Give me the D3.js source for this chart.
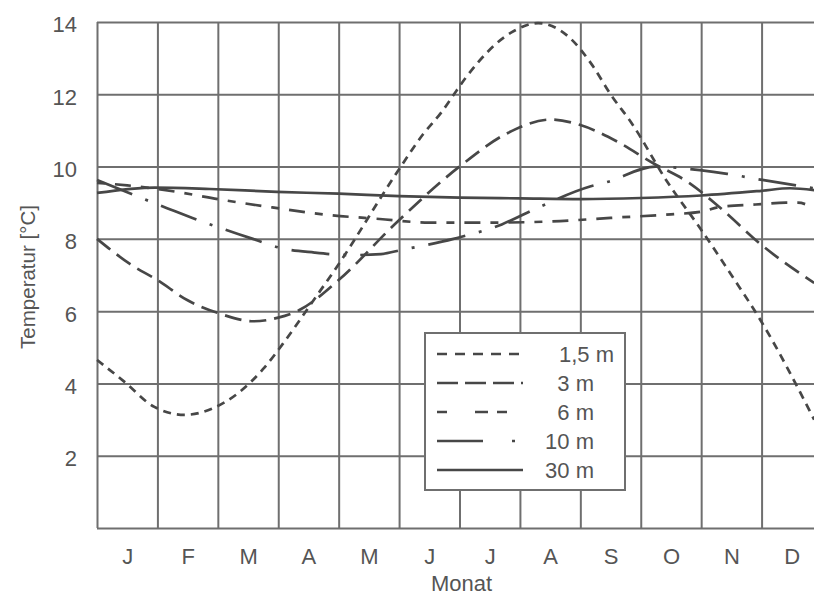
<!DOCTYPE html>
<html>
<head>
<meta charset="utf-8">
<script src="https://cdn.jsdelivr.net/npm/d3@7"></script>
<style>
  body { margin: 0; background: #fff; }
  svg { display: block; font-family: "Liberation Sans", Arial, sans-serif; }
  .grid line, .grid path { stroke: #6f6f6f; stroke-width: 2; }
  .tick text { fill: #555; font-size: 22px; }
  .curve { fill: none; stroke: #474747; stroke-width: 2.7; }
</style>
</head>
<body>
<svg id="chart" width="814" height="597"></svg>
<script>
// month labels (x axis) and temperature ticks (y axis)
const months = ['J', 'F', 'M', 'A', 'M', 'J', 'J', 'A', 'S', 'O', 'N', 'D'];
const tempTicks = [2, 4, 6, 8, 10, 12, 14];

// series values: [month position (0 = start of Jan), temperature °C]
const depth1_5 = [[0, 4.65], [0.45, 4.05], [0.95, 3.35], [1.45, 3.13], [1.9, 3.3], [2.35, 3.75],
  [2.75, 4.4], [3.1, 5.15], [3.5, 6.1], [4.0, 7.3], [4.95, 9.8],
  [5.4, 10.9], [5.7, 11.5], [5.95, 12.1], [6.1, 12.45], [6.9, 13.75], [7.3, 13.97],
  [7.8, 13.6], [8.2, 12.8], [8.5, 12.0], [8.85, 11.2], [9.43, 9.6], [9.98, 8.3],
  [10.5, 7.0], [11.0, 5.7], [11.87, 3.0]];
const depth3 = [[0, 8.0], [0.55, 7.3], [1.0, 6.86], [1.5, 6.3], [2.0, 5.95], [2.6, 5.72],
  [3.0, 5.82], [3.35, 6.03], [4.0, 6.86], [4.95, 8.44], [6.0, 10.0], [6.8, 10.93],
  [7.5, 11.3], [8.0, 11.15], [8.6, 10.7], [9.2, 10.1], [9.8, 9.55], [10.3, 8.88],
  [11.0, 7.83], [11.87, 6.78]];
const depth6 = [[0, 9.55], [0.5, 9.48], [1.32, 9.3], [2.0, 9.1], [2.9, 8.87], [3.78, 8.67],
  [4.68, 8.55], [5.5, 8.45], [6.5, 8.45], [7.5, 8.48], [8.5, 8.58], [9.5, 8.68],
  [10.0, 8.75], [10.3, 8.88], [10.9, 8.95], [11.4, 9.0], [11.6, 9.0], [11.87, 8.85]];
const depth10 = [[0, 9.63], [0.63, 9.2], [1.16, 8.85], [1.7, 8.5], [2.58, 8.0], [3.03, 7.75],
  [3.6, 7.62], [4.2, 7.55], [4.7, 7.58], [5.06, 7.7], [5.9, 8.0], [6.7, 8.4], [7.28, 8.85],
  [8.16, 9.45], [8.44, 9.57], [9.24, 10.0], [9.98, 9.9], [10.43, 9.8], [11.01, 9.63],
  [11.87, 9.4]];
const depth30 = [[0, 9.27], [0.96, 9.42], [1.87, 9.38], [2.98, 9.3], [4.0, 9.25], [5.0, 9.18],
  [6.0, 9.14], [7.0, 9.12], [8.0, 9.1], [9.0, 9.13], [10.0, 9.2], [11.0, 9.33],
  [11.47, 9.4], [11.87, 9.35]];

const seriesLabels = ['1,5 m', '3 m', '6 m', '10 m', '30 m'];

const series = [
  { label: seriesLabels[0], values: depth1_5, dash: '8,6', legendDash: '10,8' },
  { label: seriesLabels[1], values: depth3, dash: '17,8', legendDash: '21,7' },
  { label: seriesLabels[2], values: depth6, dash: '8,10,16,10', legendDash: '10,28,13,9' },
  { label: seriesLabels[3], values: depth10, dash: '38,14,3,14', legendDash: '46,29,3,40' },
  { label: seriesLabels[4], values: depth30, dash: null, legendDash: null }
];

const svg = d3.select('#chart');
const plotLeft = 97, plotTop = 22, plotRight = 822, plotBottom = 528;

const x = d3.scaleLinear().domain([0, 12]).range([plotLeft, plotRight]);
const y = d3.scaleLinear().domain([0, 14]).range([plotBottom, plotTop]);

// horizontal grid + temperature labels
const yAxis = svg.append('g')
  .attr('class', 'grid')
  .attr('transform', `translate(${plotLeft},0)`)
  .call(d3.axisLeft(y).tickValues([0].concat(tempTicks)).tickSize(-(plotRight - plotLeft)).tickPadding(20)
    .tickFormat(d => d === 0 ? '' : d));
yAxis.select('.domain').remove();
yAxis.selectAll('.tick text').attr('dy', '0.45em');

// vertical grid at month boundaries
const xGrid = svg.append('g')
  .attr('class', 'grid')
  .attr('transform', `translate(0,${plotBottom})`)
  .call(d3.axisBottom(x).tickValues(d3.range(0, 13)).tickSize(-(plotBottom - plotTop)).tickFormat(''));
xGrid.select('.domain').remove();

// month labels centred in each column
const xLabels = svg.append('g')
  .attr('transform', `translate(0,${plotBottom})`)
  .call(d3.axisBottom(x).tickValues(months.map((m, i) => i + 0.5)).tickSize(0).tickPadding(20)
    .tickFormat((d, i) => months[i]));
xLabels.select('.domain').remove();

// curves
const line = d3.line()
  .x(d => x(d[0]))
  .y(d => y(d[1]))
  .curve(d3.curveMonotoneX);

svg.append('g').selectAll('path')
  .data(series)
  .join('path')
  .attr('class', 'curve')
  .attr('d', d => line(d.values))
  .attr('stroke-dasharray', d => d.dash);

// axis titles
svg.append('text')
  .attr('x', (plotLeft + plotRight) / 2 + 2)
  .attr('y', 591)
  .attr('text-anchor', 'middle')
  .attr('fill', '#555')
  .attr('font-size', 22)
  .text('Monat');

svg.append('text')
  .attr('transform', `translate(35,${(plotTop + plotBottom) / 2 + 2}) rotate(-90)`)
  .attr('text-anchor', 'middle')
  .attr('fill', '#555')
  .attr('font-size', 20.5)
  .text('Temperatur [°C]');

// legend
const legend = svg.append('g');
legend.append('rect')
  .attr('x', 425).attr('y', 333)
  .attr('width', 200).attr('height', 157)
  .attr('fill', '#fff')
  .attr('stroke', '#6f6f6f')
  .attr('stroke-width', 2);

const rowY = d3.scalePoint().domain(seriesLabels).range([354, 470]);
const labelEnd = [614, 594, 594, 594, 594];

const rows = legend.selectAll('g.row')
  .data(series)
  .join('g')
  .attr('class', 'row');

rows.append('line')
  .attr('class', 'curve')
  .attr('x1', 437).attr('x2', 523)
  .attr('y1', d => rowY(d.label)).attr('y2', d => rowY(d.label))
  .attr('stroke-dasharray', d => d.legendDash);

rows.append('text')
  .attr('x', (d, i) => labelEnd[i])
  .attr('y', d => rowY(d.label) + 8)
  .attr('text-anchor', 'end')
  .attr('fill', '#555')
  .attr('font-size', 22)
  .text(d => d.label);
</script>
</body>
</html>
